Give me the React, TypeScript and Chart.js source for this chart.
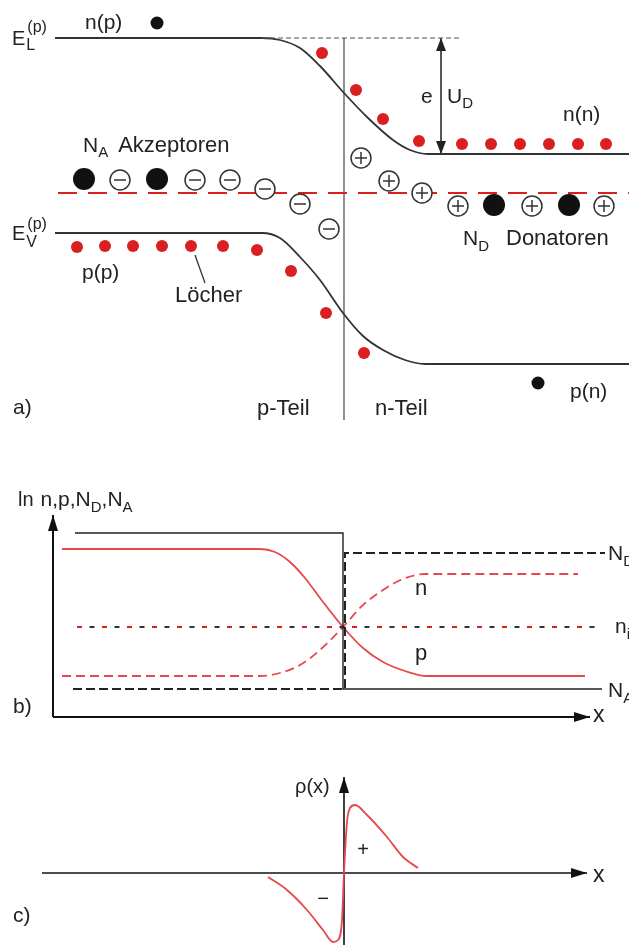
import React, { useEffect, useRef } from 'react';
import { Chart, registerables } from 'chart.js';

Chart.register(...registerables);

// ---------- Panel a: band diagram ----------
const conductionBand = [[55, 38], [262, 38], [280, 40], [300, 48], [320, 66], [344, 93], [367, 117], [393, 140], [410, 150], [428, 154], [629, 154]];
const conductionRef = [[262, 38], [460, 38]];
const valenceBand = [[55, 233], [262, 233], [280, 238], [300, 257], [320, 280], [343, 313], [363, 336], [383, 350], [405, 360], [425, 364], [629, 364]];
const fermiLevel = [[58, 193], [629, 193]];
const junction = [[344, 38], [344, 420]];
const diffusionVoltage = [[441, 38], [441, 154]];
const holePointer = [[195, 255], [205, 283]];
const electrons = [[322, 53], [356, 90], [383, 119], [419, 141], [462, 144], [491, 144], [520, 144], [549, 144], [578, 144], [606, 144]];
const holes = [[77, 247], [105, 246], [133, 246], [162, 246], [191, 246], [223, 246], [257, 250], [291, 271], [326, 313], [364, 353]];
const minorityCarriers = [[157, 23], [538, 383]];
const acceptorAtoms = [[84, 179], [157, 179]];
const donorAtoms = [[494, 205], [569, 205]];
const acceptorIons = [[120, 180], [195, 180], [230, 180], [265, 189], [300, 204], [329, 229]];
const donorIons = [[361, 158], [389, 181], [422, 193], [458, 206], [532, 206], [604, 206]];

// ---------- Panel b: concentrations (ln) ----------
const bAxisY = [[53, 717], [53, 515]];
const bAxisX = [[53, 717], [590, 717]];
const acceptorProfile = [[75, 533], [343, 533], [343, 689], [602, 689]];
const donorProfile = [[73, 689], [345, 689], [345, 553], [605, 553]];
const holeDensity = [[62, 549], [260, 549], [275, 552], [290, 562], [305, 578], [320, 598], [343, 627], [363, 648], [383, 662], [405, 671], [427, 676], [585, 676]];
const electronDensity = [[62, 676], [260, 676], [280, 673], [300, 665], [320, 650], [343, 627], [363, 605], [383, 590], [403, 579], [425, 574], [578, 574]];
const intrinsicLevel = [[77, 627], [600, 627]];

// ---------- Panel c: space charge ----------
const cAxisX = [[42, 873], [587, 873]];
const cAxisY = [[344, 945], [344, 777]];
const chargeDensity = [[268, 877], [287, 890], [307, 910], [323, 930], [333, 942], [338, 940], [342, 920], [344, 873], [347, 822], [350, 808], [355, 805], [367, 815], [387, 837], [403, 857], [418, 868]];

// ---------- Text ----------
type Run = { t: string; s: number; dy?: number; dx?: number; keep?: boolean };
type Label = { x: number; y: number; runs: Run[]; color?: string; center?: boolean };
const labels: Label[] = [
  { x: 12, y: 45, runs: [{ t: 'E', s: 20 }, { t: 'L', s: 16, dy: 5, dx: 1, keep: true }, { t: '(p)', s: 16, dy: -13, dx: 2 }] },
  { x: 12, y: 240, runs: [{ t: 'E', s: 20 }, { t: 'V', s: 16, dy: 7, dx: 1, keep: true }, { t: '(p)', s: 16, dy: -11, dx: 2 }] },
  { x: 85, y: 29, runs: [{ t: 'n(p)', s: 21 }] },
  { x: 83, y: 152, runs: [{ t: 'N', s: 21 }, { t: 'A', s: 15, dy: 5 }, { t: 'Akzeptoren', s: 22, dx: 10 }] },
  { x: 463, y: 245, runs: [{ t: 'N', s: 21 }, { t: 'D', s: 15, dy: 6 }, { t: 'Donatoren', s: 22, dx: 17 }] },
  { x: 421, y: 103, runs: [{ t: 'e', s: 21 }] },
  { x: 447, y: 103, runs: [{ t: 'U', s: 21 }, { t: 'D', s: 15, dy: 5 }] },
  { x: 563, y: 121, runs: [{ t: 'n(n)', s: 21 }] },
  { x: 82, y: 279, runs: [{ t: 'p(p)', s: 21 }] },
  { x: 175, y: 302, runs: [{ t: 'Löcher', s: 22 }] },
  { x: 13, y: 414, runs: [{ t: 'a)', s: 21 }] },
  { x: 257, y: 415, runs: [{ t: 'p-Teil', s: 22 }] },
  { x: 375, y: 415, runs: [{ t: 'n-Teil', s: 22 }] },
  { x: 570, y: 398, runs: [{ t: 'p(n)', s: 21 }] },
  { x: 18, y: 506, runs: [{ t: 'ln', s: 20 }, { t: 'n,p,N', s: 21, dx: 7 }, { t: 'D', s: 15, dy: 6 }, { t: ',N', s: 21 }, { t: 'A', s: 15, dy: 6 }] },
  { x: 13, y: 713, runs: [{ t: 'b)', s: 21 }] },
  { x: 608, y: 560, runs: [{ t: 'N', s: 21 }, { t: 'D', s: 15, dy: 6 }] },
  { x: 615, y: 633, runs: [{ t: 'n', s: 21 }, { t: 'i', s: 15, dy: 6 }] },
  { x: 608, y: 697, runs: [{ t: 'N', s: 21 }, { t: 'A', s: 15, dy: 6 }] },
  { x: 415, y: 595, runs: [{ t: 'n', s: 22 }] },
  { x: 415, y: 660, runs: [{ t: 'p', s: 22 }] },
  { x: 593, y: 722, runs: [{ t: 'x', s: 23 }] },
  { x: 295, y: 793, runs: [{ t: 'ρ(x)', s: 20 }] },
  { x: 363, y: 856, runs: [{ t: '+', s: 20 }], center: true },
  { x: 323, y: 905, runs: [{ t: '−', s: 20 }], center: true },
  { x: 593, y: 882, runs: [{ t: 'x', s: 23 }] },
  { x: 13, y: 922, runs: [{ t: 'c)', s: 21 }] },
];

const FONT = '"Liberation Sans", Arial, Helvetica, sans-serif';
const INK = '#222';
const RED = '#d91f20';
const LIGHT_RED = '#e5484d';

const pts = (a: number[][]) => a.map(([x, y]) => ({ x, y }));

const line = (data: number[][], color: string, width: number, extra: any = {}) => ({
  data: pts(data),
  showLine: true,
  borderColor: color,
  backgroundColor: color,
  borderWidth: width,
  pointRadius: 0,
  tension: 0,
  clip: false,
  order: 10,
  ...extra,
});

const dots = (data: number[][], color: string, r: number, extra: any = {}) => ({
  data: pts(data),
  showLine: false,
  pointStyle: 'circle',
  pointRadius: r,
  pointBackgroundColor: color,
  pointBorderColor: color,
  pointBorderWidth: 0,
  clip: false,
  order: 4,
  ...extra,
});

const whiteBg = {
  id: 'whiteBg',
  beforeDraw(chart: any) {
    const c = chart.ctx;
    c.save();
    c.fillStyle = '#fff';
    c.fillRect(0, 0, chart.width, chart.height);
    c.restore();
  },
};

const arrows = {
  id: 'arrows',
  afterDatasetsDraw(chart: any) {
    const c = chart.ctx;
    chart.data.datasets.forEach((ds: any, i: number) => {
      if (!ds.arrow) return;
      const el = chart.getDatasetMeta(i).data;
      const head = (a: any, b: any) => {
        const ang = Math.atan2(b.y - a.y, b.x - a.x);
        const L = ds.arrowLength || 14;
        const W = ds.arrowWidth || 5;
        const bx = b.x - L * Math.cos(ang);
        const by = b.y - L * Math.sin(ang);
        c.save();
        c.fillStyle = ds.borderColor;
        c.beginPath();
        c.moveTo(b.x, b.y);
        c.lineTo(bx - W * Math.sin(ang), by + W * Math.cos(ang));
        c.lineTo(bx + W * Math.sin(ang), by - W * Math.cos(ang));
        c.closePath();
        c.fill();
        c.restore();
      };
      const n = el.length;
      head(el[n - 2], el[n - 1]);
      if (ds.arrow === 'both') head(el[1], el[0]);
    });
  },
};

const texts = {
  id: 'texts',
  afterDraw(chart: any) {
    const c = chart.ctx;
    const sx = chart.scales.x;
    const sy = chart.scales.y;
    c.save();
    c.textBaseline = 'alphabetic';
    labels.forEach((lb) => {
      let x = sx.getPixelForValue(lb.x);
      const y = sy.getPixelForValue(lb.y);
      c.fillStyle = lb.color || INK;
      if (lb.center) {
        c.textAlign = 'center';
        c.font = `${lb.runs[0].s}px ${FONT}`;
        c.fillText(lb.runs[0].t, x, y);
        c.textAlign = 'left';
        return;
      }
      c.textAlign = 'left';
      let pending = 0;
      lb.runs.forEach((r) => {
        c.font = `${r.s}px ${FONT}`;
        const rx = x + (r.dx || 0);
        c.fillText(r.t, rx, y + (r.dy || 0));
        const w = c.measureText(r.t).width + (r.dx || 0);
        if (r.keep) {
          pending = Math.max(pending, w);
        } else {
          x += Math.max(w, pending);
          pending = 0;
        }
      });
    });
    c.restore();
  },
};

export default function App() {
  const ref = useRef<HTMLCanvasElement | null>(null);

  useEffect(() => {
    if (!ref.current) return;
    const datasets: any[] = [
      // panel a
      line(conductionRef, '#555', 1.2, { borderDash: [5, 3] }),
      line(conductionBand, '#333', 1.8, { cubicInterpolationMode: 'monotone' }),
      line(valenceBand, '#333', 1.8, { cubicInterpolationMode: 'monotone' }),
      line(fermiLevel, RED, 2.2, { borderDash: [19, 11], order: 8 }),
      line(junction, '#555', 1.3),
      line(diffusionVoltage, '#222', 1.5, { arrow: 'both', arrowLength: 13, arrowWidth: 5 }),
      line(holePointer, '#333', 1.3),
      dots(electrons, RED, 6),
      dots(holes, RED, 6),
      dots(minorityCarriers, '#111', 6.5),
      dots(acceptorAtoms, '#111', 11),
      dots(donorAtoms, '#111', 11),
      dots(acceptorIons, '#fff', 10, { pointBorderColor: '#333', pointBorderWidth: 1.5 }),
      dots(donorIons, '#fff', 10, { pointBorderColor: '#333', pointBorderWidth: 1.5 }),
      dots(acceptorIons, '#333', 6, { pointStyle: 'line', pointBorderWidth: 1.5, order: 1 }),
      dots(donorIons, '#333', 6, { pointStyle: 'cross', pointBorderWidth: 1.5, order: 1 }),
      // panel b
      line(bAxisY, '#111', 2, { arrow: 'end', arrowLength: 16, arrowWidth: 5 }),
      line(bAxisX, '#111', 2, { arrow: 'end', arrowLength: 16, arrowWidth: 5 }),
      line(acceptorProfile, '#222', 1.4),
      line(donorProfile, '#222', 2, { borderDash: [9, 4] }),
      line(intrinsicLevel, RED, 2, { borderDash: [5, 20] }),
      line(intrinsicLevel, '#333', 2, { borderDash: [5, 20], borderDashOffset: 12.5 }),
      line(holeDensity, LIGHT_RED, 1.8, { cubicInterpolationMode: 'monotone' }),
      line(electronDensity, LIGHT_RED, 1.8, { cubicInterpolationMode: 'monotone', borderDash: [9, 5] }),
      // panel c
      line(cAxisX, '#111', 1.6, { arrow: 'end', arrowLength: 16, arrowWidth: 5 }),
      line(cAxisY, '#111', 1.6, { arrow: 'end', arrowLength: 16, arrowWidth: 5 }),
      line(chargeDensity, LIGHT_RED, 1.8, { cubicInterpolationMode: 'monotone', order: 2 }),
    ];

    const chart = new Chart(ref.current, {
      type: 'scatter',
      data: { datasets },
      options: {
        responsive: false,
        maintainAspectRatio: false,
        animation: false,
        events: [],
        layout: { padding: 0, autoPadding: false },
        plugins: { legend: { display: false }, tooltip: { enabled: false } },
        scales: {
          x: { type: 'linear', min: 0, max: 629, display: false },
          y: { type: 'linear', min: 0, max: 945, reverse: true, display: false },
        },
      },
      plugins: [whiteBg, arrows, texts],
    } as any);
    return () => chart.destroy();
  }, []);

  return (
    <div style={{ position: 'absolute', left: 0, top: 0, width: 629, height: 945, background: '#fff' }}>
      <canvas ref={ref} width={629} height={945} style={{ display: 'block' }} />
    </div>
  );
}
